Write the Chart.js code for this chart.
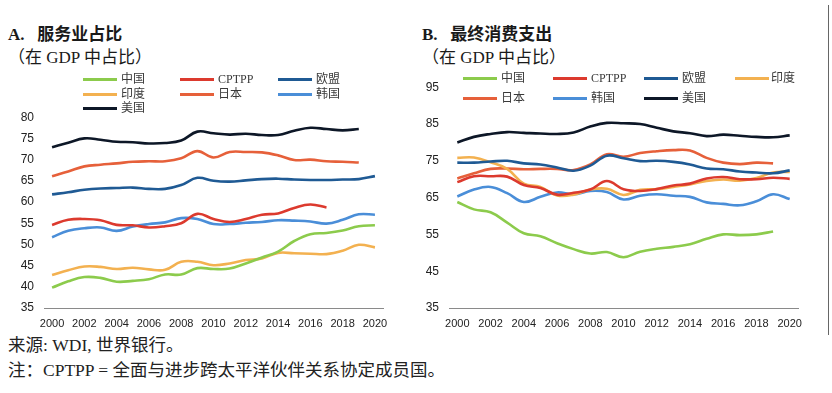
<!DOCTYPE html>
<html>
<head>
<meta charset="utf-8">
<script src="https://cdn.jsdelivr.net/npm/chart.js@4"></script>
<style>
  body { margin: 0; background: #fff; width: 832px; height: 393px; overflow: hidden; position: relative; }
  .t { position: absolute; white-space: nowrap; font-family: "Liberation Serif", "Noto Sans CJK SC", serif; color: #1a1a1a; }
  .title { font-size: 17px; font-weight: bold; }
  .sub { font-size: 17px; }
  .note { font-size: 17.5px; color: #222; }
  .lg { position: absolute; font-family: "Liberation Serif", "Noto Sans CJK SC", serif; font-size: 12px; color: #3a3a3a; white-space: nowrap; line-height: 14px; }
  .sw { position: absolute; height: 3px; }
  canvas { position: absolute; }
  #edge { position: absolute; left: 828px; top: 5px; width: 1px; height: 330px; background: #666; }
</style>
</head>
<body>
<div class="t title" style="left:8px; top:20px;">A.&nbsp;&nbsp; 服务业占比</div>
<div class="t sub" style="left:8px; top:43px;">（在 GDP 中占比）</div>
<div class="t title" style="left:422px; top:20px;">B.&nbsp;&nbsp; 最终消费支出</div>
<div class="t sub" style="left:422px; top:43px;">（在 GDP 中占比）</div>
<div class="t note" style="left:8px; top:331px;">来源: WDI, 世界银行。</div>
<div class="t note" style="left:8px; top:356px;">注：CPTPP = 全面与进步跨太平洋伙伴关系协定成员国。</div>
<div id="edge"></div>
<canvas id="chartA" width="400" height="240" style="left:0; top:100px;"></canvas>
<canvas id="chartB" width="422" height="270" style="left:410px; top:70px;"></canvas>
<script>
// x categories
const years = [2000, 2001, 2002, 2003, 2004, 2005, 2006, 2007, 2008, 2009, 2010,
               2011, 2012, 2013, 2014, 2015, 2016, 2017, 2018, 2019, 2020];
const seriesNames = ["中国", "CPTPP", "欧盟", "印度", "日本", "韩国", "美国"];
const seriesColors = ["#8ccb4c", "#dc3a2e", "#1f5a94", "#f3b150", "#e6603a", "#4a8ed8", "#0d1727"];

// A. services share of GDP
const servChina = [39.8, 41.3, 42.3, 42.1, 41.2, 41.4, 41.8, 42.9, 42.9, 44.4, 44.2, 44.3, 45.5, 46.9, 48.3, 50.8, 52.4, 52.7, 53.3, 54.3, 54.5];
const servCptpp = [54.6, 55.8, 56.0, 55.7, 54.6, 54.5, 54.0, 54.3, 55.0, 57.2, 56.0, 55.3, 56.0, 57.0, 57.3, 58.6, 59.4, 58.7, null, null, null];
const servEU    = [61.8, 62.3, 62.9, 63.2, 63.3, 63.4, 63.1, 63.1, 64.0, 65.7, 65.0, 64.8, 65.1, 65.4, 65.5, 65.3, 65.2, 65.2, 65.3, 65.4, 66.1];
const servIndia = [42.8, 43.9, 44.8, 44.7, 44.2, 44.5, 44.1, 44.0, 45.9, 45.9, 45.1, 45.5, 46.3, 46.7, 48.0, 47.9, 47.8, 47.7, 48.5, 49.9, 49.3];
const servJapan = [66.1, 67.2, 68.4, 68.8, 69.1, 69.5, 69.6, 69.6, 70.3, 72.0, 70.5, 71.8, 71.8, 71.7, 71.0, 69.9, 70.0, 69.6, 69.5, 69.3, null];
const servKorea = [51.7, 53.2, 53.8, 54.0, 53.2, 54.2, 54.8, 55.2, 56.2, 56.0, 54.8, 54.8, 55.1, 55.3, 55.7, 55.6, 55.4, 54.9, 55.8, 57.1, 57.0];
const servUS    = [72.9, 74.0, 75.0, 74.7, 74.2, 74.1, 73.8, 73.9, 74.5, 76.6, 76.2, 75.9, 76.1, 75.8, 75.8, 76.8, 77.5, 77.2, 76.9, 77.2, null];

// B. final consumption expenditure share of GDP
const consChina = [63.8, 61.8, 61.0, 58.2, 55.3, 54.5, 52.6, 51.0, 49.8, 50.2, 48.8, 50.3, 51.1, 51.6, 52.3, 53.8, 55.0, 54.8, 55.0, 55.8, null];
const consCptpp = [69.2, 70.8, 70.8, 70.7, 68.4, 67.6, 65.8, 66.3, 67.2, 69.5, 67.3, 66.8, 67.3, 68.3, 68.8, 70.2, 70.6, 70.0, 70.0, 70.4, 70.1];
const consEU    = [74.5, 74.5, 74.8, 75.0, 74.3, 74.0, 73.2, 72.3, 73.7, 76.4, 75.7, 74.9, 75.0, 74.7, 74.0, 72.9, 72.7, 72.1, 71.8, 71.6, 72.4];
const consIndia = [75.8, 75.9, 74.6, 72.8, 68.8, 67.9, 65.6, 65.8, 67.2, 67.4, 65.7, 67.1, 67.3, 67.9, 68.6, 69.5, 69.9, 69.6, 70.3, 71.8, 72.0];
const consJapan = [70.2, 71.6, 72.8, 72.9, 72.7, 72.8, 72.8, 72.5, 74.0, 76.8, 76.1, 77.1, 77.6, 77.9, 77.8, 75.8, 74.5, 74.1, 74.5, 74.3, null];
const consKorea = [65.3, 67.2, 67.9, 66.2, 63.8, 65.2, 66.4, 65.9, 66.8, 66.5, 64.5, 65.5, 65.9, 65.5, 65.2, 63.7, 63.3, 62.9, 64.0, 65.9, 64.6];
const consUS    = [80.0, 81.5, 82.3, 82.8, 82.6, 82.4, 82.3, 82.7, 84.3, 85.3, 85.2, 85.0, 84.0, 83.0, 82.5, 81.7, 82.1, 81.8, 81.5, 81.4, 81.9];

const servSeries = [servChina, servCptpp, servEU, servIndia, servJapan, servKorea, servUS];
const consSeries = [consChina, consCptpp, consEU, consIndia, consJapan, consKorea, consUS];

// html legends, laid out in fixed columns like the original
function buildLegend(cols, rows, lineX, textX) {
    seriesNames.forEach((name, i) => {
        const c = i % cols, r = Math.floor(i / cols);
        const sw = document.createElement("div");
        sw.className = "sw";
        sw.style.left = lineX[c] + "px";
        sw.style.top = (rows[r] - 1.5) + "px";
        sw.style.width = "34px";
        sw.style.background = seriesColors[i];
        document.body.appendChild(sw);
        const tx = document.createElement("div");
        tx.className = "lg";
        tx.textContent = name;
        tx.style.left = textX[c] + "px";
        tx.style.top = (rows[r] - 7) + "px";
        document.body.appendChild(tx);
    });
}
buildLegend(3, [79, 94, 108], [83, 180, 278], [121, 218, 316]);
buildLegend(4, [78, 98], [463, 553, 644, 735], [501, 591, 682, 771]);

const makeChart = (id, series, yMin, yMax, step, pad, yWidth) => {
    const ctx = document.getElementById(id).getContext("2d");
    return new Chart(ctx, {
        type: "line",
        data: {
            labels: years,
            datasets: series.map((vals, i) => ({
                label: seriesNames[i],
                data: vals,
                borderColor: seriesColors[i],
                backgroundColor: seriesColors[i],
                borderWidth: 2.6,
                pointRadius: 0,
                tension: 0.4,
                fill: false
            }))
        },
        options: {
            responsive: false,
            animation: false,
            layout: { padding: pad },
            plugins: { legend: { display: false }, tooltip: { enabled: false } },
            scales: {
                x: {
                    offset: true,
                    grid: { display: false, drawTicks: false },
                    border: { display: true, color: "#8a8a8a", width: 1 },
                    afterFit: s => { s.height = 32; },
                    ticks: {
                        autoSkip: false, maxRotation: 0, padding: 9,
                        color: "#222",
                        font: { family: "Liberation Sans", size: 11 },
                        callback: (v, i) => (i % 2 === 0 ? String(years[i]) : "")
                    }
                },
                y: {
                    min: yMin, max: yMax,
                    grid: { display: false, drawTicks: false },
                    border: { display: false },
                    afterFit: s => { s.width = yWidth; },
                    ticks: {
                        stepSize: step, padding: 10,
                        color: "#222",
                        font: { family: "Liberation Sans", size: 12 }
                    }
                }
            }
        }
    });
};

makeChart("chartA", servSeries, 35, 80, 5, { top: 12, right: 17, left: 0, bottom: 0 }, 44);
makeChart("chartB", consSeries, 35, 95, 10, { top: 16, right: 34, left: 0, bottom: 0 }, 39);
</script>
</body>
</html>
